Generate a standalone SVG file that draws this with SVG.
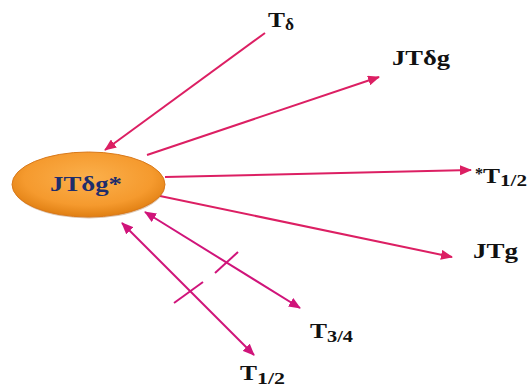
<svg xmlns="http://www.w3.org/2000/svg" width="528" height="387" viewBox="0 0 528 387">
  <defs>
    <radialGradient id="og" cx="0.5" cy="0.4" r="0.6">
      <stop offset="0" stop-color="#FBB04C"/>
      <stop offset="0.7" stop-color="#F59A2E"/>
      <stop offset="1" stop-color="#E07F12"/>
    </radialGradient>
    <marker id="ah" viewBox="0 0 12 10" refX="11" refY="5" markerWidth="12" markerHeight="10" markerUnits="userSpaceOnUse" orient="auto-start-reverse">
      <path d="M0,0 L12,5 L0,10 z" fill="#DC1F63"/>
    </marker>
    <marker id="ah2" viewBox="0 0 12 10" refX="11" refY="5" markerWidth="12" markerHeight="10" markerUnits="userSpaceOnUse" orient="auto-start-reverse">
      <path d="M0,0 L12,5 L0,10 z" fill="#D0147A"/>
    </marker>
  </defs>
  <style>
    .ln { stroke: #DC1F63; stroke-width: 2; fill: none; }
    .ln2 { stroke: #D0147A; stroke-width: 2; fill: none; }
    .lbl { font-family: "Liberation Serif", "Times New Roman", serif; font-weight: bold; fill: #111; }
    .big { font-size: 22px; }
    .sub { font-size: 16px; }
  </style>

  <g id="connectors">
    <line class="ln" x1="265" y1="33" x2="105" y2="150" marker-end="url(#ah)"/>
    <line class="ln" x1="147" y1="155" x2="379" y2="77" marker-end="url(#ah)"/>
    <line class="ln" x1="165" y1="177" x2="471" y2="170" marker-end="url(#ah)"/>
    <line class="ln" x1="160" y1="196" x2="452" y2="257" marker-end="url(#ah)"/>
    <line class="ln2" x1="145" y1="212" x2="300" y2="308" marker-start="url(#ah2)" marker-end="url(#ah2)"/>
    <line class="ln2" x1="122" y1="223" x2="254" y2="355" marker-start="url(#ah2)" marker-end="url(#ah2)"/>
    <line class="ln2" x1="215" y1="273" x2="238" y2="252"/>
    <line class="ln2" x1="174" y1="303" x2="203" y2="282"/>
  </g>

  <g id="node-center">
    <ellipse cx="89" cy="186" rx="76" ry="32.5" fill="#9A5A1A" opacity="0.35"/>
    <ellipse cx="88.5" cy="184.5" rx="76.5" ry="32.5" fill="url(#og)" stroke="#D9791A" stroke-width="1"/>
    <text class="lbl big" x="50" y="191" textLength="72" lengthAdjust="spacingAndGlyphs" style="fill:#1E2D6B">JTδg*</text>
  </g>

  <g id="node-tdelta">
    <text class="lbl" x="268" y="27"><tspan class="big" textLength="17" lengthAdjust="spacingAndGlyphs">T</tspan><tspan class="sub" dy="3" textLength="9" lengthAdjust="spacingAndGlyphs">δ</tspan></text>
  </g>

  <g id="node-jtdg">
    <text class="lbl big" x="392" y="65" textLength="58" lengthAdjust="spacingAndGlyphs">JTδg</text>
  </g>

  <g id="node-t12star">
    <text class="lbl" x="475" y="183"><tspan class="sub" dy="-4">*</tspan><tspan class="big" dy="4" textLength="17" lengthAdjust="spacingAndGlyphs">T</tspan><tspan class="sub" dy="3" textLength="27" lengthAdjust="spacingAndGlyphs">1/2</tspan></text>
  </g>

  <g id="node-jtg">
    <text class="lbl big" x="473" y="258" textLength="45" lengthAdjust="spacingAndGlyphs">JTg</text>
  </g>

  <g id="node-t34">
    <text class="lbl" x="310" y="338"><tspan class="big" textLength="17" lengthAdjust="spacingAndGlyphs">T</tspan><tspan class="sub" dy="4" textLength="26" lengthAdjust="spacingAndGlyphs">3/4</tspan></text>
  </g>

  <g id="node-t12">
    <text class="lbl" x="240" y="380"><tspan class="big" textLength="17" lengthAdjust="spacingAndGlyphs">T</tspan><tspan class="sub" dy="4" textLength="28" lengthAdjust="spacingAndGlyphs">1/2</tspan></text>
  </g>
</svg>
